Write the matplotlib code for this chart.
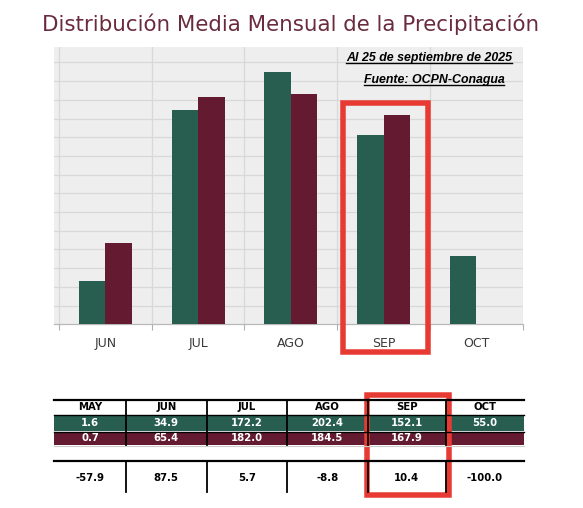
import matplotlib
matplotlib.use("Agg")
import matplotlib.pyplot as plt
from matplotlib.patches import Rectangle
import numpy as np

# ---------------- data ----------------
chart_months = ["JUN", "JUL", "AGO", "SEP", "OCT"]
series_2025 = [34.9, 172.2, 202.4, 152.1, 55.0]          # green
series_mean = [65.4, 182.0, 184.5, 167.9, np.nan]        # maroon

table_months = ["MAY", "JUN", "JUL", "AGO", "SEP", "OCT"]
table_green = ["1.6", "34.9", "172.2", "202.4", "152.1", "55.0"]
table_maroon = ["0.7", "65.4", "182.0", "184.5", "167.9", ""]
table_diff = ["-57.9", "87.5", "5.7", "-8.8", "10.4", "-100.0"]

title = "Distribución Media Mensual de la Precipitación"
note1 = "Al 25 de septiembre de 2025"
note2 = "Fuente: OCPN-Conagua"

GREEN = "#285e4f"
MAROON = "#641b31"
RED = "#e63a32"
TITLE_C = "#6a2b3e"

W, H = 583, 508
fig = plt.figure(figsize=(W / 100, H / 100), dpi=100)
fig.patch.set_facecolor("white")

# ---------------- chart ----------------
L, R, T, B = 54, 523, 46.7, 324.3
ax = fig.add_axes([L / W, (H - B) / H, (R - L) / W, (B - T) / H])
ax.set_facecolor("#eeeeee")
x = np.arange(len(chart_months))
bw = 0.286
ax.bar(x - bw / 2, series_2025, width=bw, color=GREEN, zorder=3)
ax.bar(x + bw / 2, series_mean, width=bw, color=MAROON, zorder=3)
ax.set_xlim(-0.554, 4.503)
ax.set_ylim(0, 222.6)
ax.set_yticks(np.arange(15, 211, 15))
ax.set_yticklabels([])
ax.tick_params(axis="y", length=0)
ax.set_xticks(x)
ax.set_xticklabels(chart_months, fontsize=9, color="#3a3a3a")
ax.tick_params(axis="x", which="major", length=0, pad=9)
ax.set_xticks(np.arange(-0.5, 4.6, 1), minor=True)
ax.tick_params(axis="x", which="minor", length=4, color="#b0b0b0", width=0.8)
ax.grid(axis="y", color="#d8d8d8", lw=0.9, zorder=0)
ax.grid(axis="x", which="minor", color="#d8d8d8", lw=0.9, zorder=0)
for s in ["top", "right", "left"]:
    ax.spines[s].set_visible(False)
ax.spines["bottom"].set_color("#b8b8b8")
ax.spines["bottom"].set_linewidth(0.9)

# ---------------- overlay (pixel coordinates) ----------------
ov = fig.add_axes([0, 0, 1, 1], zorder=10)
ov.set_xlim(0, W)
ov.set_ylim(H, 0)
ov.axis("off")
ov.patch.set_alpha(0)

ov.text(291, 24, title, ha="center", va="center", fontsize=15.4, color=TITLE_C)

t1 = ov.text(429, 58, note1, ha="center", va="center", fontsize=8.9,
             fontweight="bold", fontstyle="italic", family="Liberation Sans",
             color="black")
t2 = ov.text(434, 80, note2, ha="center", va="center", fontsize=8.9,
             fontweight="bold", fontstyle="italic", family="Liberation Sans",
             color="black")

# table
cols = [54, 126, 206.7, 286.7, 368, 445.7, 524]
for i in range(len(table_months)):
    x0, x1 = cols[i], cols[i + 1]
    xc = (x0 + x1) / 2
    ov.add_patch(Rectangle((x0, 415), x1 - x0, 16, color=GREEN, lw=0))
    ov.add_patch(Rectangle((x0, 432), x1 - x0, 12.5, color=MAROON, lw=0))
    ov.text(xc, 407.5, table_months[i], ha="center", va="center",
            fontsize=7.3, fontweight="bold", color="black")
    ov.text(xc, 423, table_green[i], ha="center", va="center",
            fontsize=7.3, fontweight="bold", color="white")
    ov.text(xc, 438.3, table_maroon[i], ha="center", va="center",
            fontsize=7.3, fontweight="bold", color="white")
    ov.text(xc, 478.3, table_diff[i], ha="center", va="center",
            fontsize=7.3, fontweight="bold", color="black")

ov.plot([54, 524], [400, 400], color="black", lw=1.6)
ov.plot([54, 524], [414.8, 414.8], color="black", lw=1.0)
ov.plot([54, 524], [431.5, 431.5], color="black", lw=1.0)
ov.plot([54, 524], [445.5, 445.5], color="#cccccc", lw=0.8)
ov.plot([54, 524], [460.7, 460.7], color="black", lw=1.6)
for cx in cols[1:-1]:
    ov.plot([cx, cx], [400, 444.5], color="black", lw=1.3)
    ov.plot([cx, cx], [460.7, 492], color="black", lw=1.3)

# red highlight boxes
lwpt = 5.5 * 72 / 100
ov.add_patch(Rectangle((342.8, 103), 427.5 - 342.8, 352 - 103, fill=False,
                       edgecolor=RED, lw=lwpt, joinstyle="miter"))
ov.add_patch(Rectangle((366.7, 395), 449 - 366.7, 494.5 - 395, fill=False,
                       edgecolor=RED, lw=lwpt, joinstyle="miter"))

# underline notes
fig.canvas.draw()
rend = fig.canvas.get_renderer()
inv = ov.transData.inverted()
for t in (t1, t2):
    bb = t.get_window_extent(rend)
    (xa, ya), (xb, yb) = inv.transform([(bb.x0, bb.y0), (bb.x1, bb.y1)])
    yline = max(ya, yb) - 1.5
    ov.plot([xa, xb], [yline, yline], color="black", lw=1.0)

fig.savefig("out.png", dpi=100, facecolor="white")
